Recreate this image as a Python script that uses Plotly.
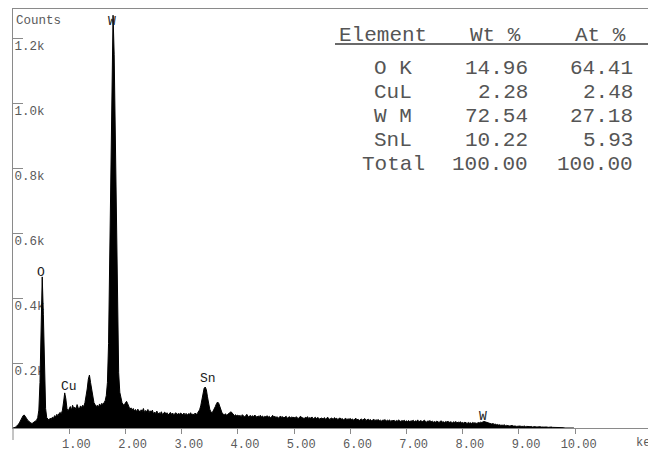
import numpy as np
import plotly.graph_objects as go

# ---------------- data ----------------
channel_width_kev = 0.02  # spectrum channel width (keV); channel i sits at i * width

counts = [
    # 0.00 - 0.48
    0, 0, 2, 5, 8, 12, 18, 25, 32, 38, 40, 36, 30, 24, 20, 17, 15, 14, 16, 18, 20, 24, 32, 55, 140,
    # 0.50 - 0.98
    340, 465, 350, 150, 60, 32, 26, 24, 30, 27, 33, 30, 38, 35, 42, 38, 45, 48, 44, 55, 80, 108, 90, 60, 52,
    # 1.00 - 1.48
    58, 66, 55, 70, 60, 64, 57, 72, 62, 58, 68, 63, 70, 66, 78, 95, 120, 150, 163, 140, 115, 95, 78, 72, 66,
    # 1.50 - 1.98
    70, 64, 74, 68, 76, 72, 78, 84, 100, 140, 260, 540, 870, 1160, 1270, 1150, 880, 600, 330, 170, 110, 88, 78, 72, 70,
    # 2.00 - 2.48
    78, 82, 75, 64, 58, 62, 55, 60, 52, 57, 50, 58, 53, 49, 56, 51, 60, 48, 54, 50, 57, 47, 53, 49, 55,
    # 2.50 - 2.98
    43, 49, 45, 52, 42, 47, 44, 50, 41, 46, 49, 43, 47, 40, 45, 48, 42, 46, 41, 44, 47, 40, 45, 42, 46,
    # 3.00 - 3.48
    44, 40, 46, 41, 45, 39, 44, 42, 47, 40, 43, 41, 46, 42, 45, 50, 56, 68, 85, 108, 122, 126, 118, 96, 74,
    # 3.50 - 3.98
    58, 50, 47, 52, 58, 66, 75, 80, 76, 64, 52, 46, 43, 40, 44, 39, 42, 45, 48, 50, 46, 42, 38, 41, 37,
    # 4.00 - 4.48
    40, 36, 39, 35, 41, 37, 34, 38, 42, 36, 33, 39, 35, 38, 34, 40, 36, 33, 37, 35, 39, 34, 37, 32, 36,
    # 4.50 - 4.98
    34, 38, 33, 36, 31, 35, 39, 33, 36, 32, 35, 30, 34, 37, 32, 35, 31, 34, 36, 30, 33, 35, 31, 34, 32,
    # 5.00 - 5.48
    33, 30, 35, 31, 29, 34, 36, 30, 32, 28, 33, 31, 35, 29, 32, 30, 34, 28, 31, 33, 29, 32, 30, 27, 31,
    # 5.50 - 5.98
    30, 28, 32, 27, 30, 33, 28, 26, 31, 29, 27, 32, 28, 30, 26, 29, 31, 27, 29, 25, 28, 30, 26, 28, 27,
    # 6.00 - 6.48
    29, 26, 28, 24, 27, 30, 25, 27, 23, 26, 28, 24, 26, 29, 23, 25, 27, 24, 26, 22, 25, 27, 23, 25, 24,
    # 6.50 - 6.98
    26, 22, 24, 21, 25, 23, 26, 21, 24, 22, 25, 20, 23, 22, 24, 20, 23, 21, 25, 22, 20, 23, 21, 24, 20,
    # 7.00 - 7.48
    22, 20, 23, 19, 22, 21, 24, 19, 22, 20, 25, 19, 21, 23, 19, 21, 24, 20, 18, 22, 20, 23, 19, 21, 18,
    # 7.50 - 7.98
    20, 18, 21, 19, 17, 20, 22, 18, 19, 17, 20, 18, 21, 17, 19, 18, 16, 19, 17, 20, 16, 18, 17, 19, 16,
    # 8.00 - 8.48
    17, 15, 18, 16, 14, 17, 15, 16, 14, 17, 15, 16, 14, 15, 17, 16, 18, 17, 19, 20, 19, 18, 16, 15, 14,
    # 8.50 - 8.98
    13, 12, 14, 11, 12, 10, 11, 9, 10, 8, 9, 8, 10, 7, 8, 7, 8, 6, 7, 8, 6, 7, 6, 5, 6,
    # 9.00 - 9.48
    5, 6, 5, 4, 5, 6, 4, 5, 4, 5, 4, 5, 3, 4, 5, 4, 3, 4, 3, 4, 3, 4, 3, 3, 4,
    # 9.50 - 9.98
    3, 2, 3, 2, 3, 2, 2, 3, 2, 2, 2, 1, 2, 1, 1, 1, 0, 0, 0, 0, 0, 0, 0, 0, 0,
]
energy_kev = np.round(np.arange(len(counts)) * channel_width_kev, 2)

x_tick_values = [1, 2, 3, 4, 5, 6, 7, 8, 9, 10]
x_tick_labels = ["1.00", "2.00", "3.00", "4.00", "5.00", "6.00", "7.00", "8.00", "9.00", "10.00"]
y_tick_values = [200, 400, 600, 800, 1000, 1200]
y_tick_labels = ["0.2k", "0.4k", "0.6k", "0.8k", "1.0k", "1.2k"]

peak_names = ["O", "Cu", "W", "Sn", "W"]
peak_label_energy = [0.49, 1.00, 1.76, 3.47, 8.36]
peak_label_counts = [480, 129, 1250, 151, 34]

table_header = ["Element", "Wt %", "At %"]
table_elements = ["O K", "CuL", "W M", "SnL", "Total"]
table_wt = ["14.96", "2.28", "72.54", "10.22", "100.00"]
table_at = ["64.41", "2.48", "27.18", "5.93", "100.00"]

# ---------------- figure ----------------
MONO = "Liberation Mono, Courier New, monospace"
AX_GRAY = "#8a8a8a"
TXT_GRAY = "#5a5a5a"

# the page body adds an 8px margin, so the figure is sized to fit the window
PAGE_OFF = 8
W, H = 656 - PAGE_OFF, 454 - PAGE_OFF
L, T, B, R = 5, 1, 26, 0
plot_w = W - L - R
plot_h = H - T - B
PX_PER_COUNT = 0.325

fig = go.Figure()
fig.add_trace(go.Scatter(
    x=energy_kev, y=counts, mode="lines",
    line=dict(color="black", width=1),
    fill="tozeroy", fillcolor="black",
    hoverinfo="skip", showlegend=False,
))

NB = "\u00a0"
x_tick_text = [NB * (6 - len(t)) + t for t in x_tick_labels]

fig.update_layout(
    width=W, height=H,
    margin=dict(l=L, r=R, t=T, b=B, pad=0),
    paper_bgcolor="white", plot_bgcolor="white",
    showlegend=False,
    xaxis=dict(
        range=[0, 11.44],
        tickvals=x_tick_values, ticktext=x_tick_text,
        ticks="outside", ticklen=5, tickcolor=AX_GRAY, tickwidth=1,
        showline=True, linecolor=AX_GRAY, linewidth=1, mirror=True,
        showgrid=False, zeroline=False,
        tickfont=dict(family=MONO, size=12, color=TXT_GRAY),
    ),
    yaxis=dict(
        range=[0, plot_h / PX_PER_COUNT],
        tickvals=y_tick_values, ticktext=y_tick_labels,
        ticks="inside", ticklen=10, tickcolor=AX_GRAY, tickwidth=1,
        ticklabelposition="inside", ticklabelshift=8, ticklabelstandoff=-9,
        showline=True, linecolor=AX_GRAY, linewidth=1,
        showgrid=False, zeroline=False, layer="below traces",
        tickfont=dict(family=MONO, size=12.5, color=TXT_GRAY),
    ),
)

# helper: place text at reference-page pixel positions
PLOT_LEFT_PAGE = L + PAGE_OFF
PLOT_TOP_PAGE = T + PAGE_OFF


def page_text(text, px, py, anchor, size, color):
    return dict(text=text, xref="paper", yref="paper", x=0, y=1,
                xshift=px - PLOT_LEFT_PAGE, yshift=-(py - PLOT_TOP_PAGE),
                xanchor=anchor, yanchor="middle", showarrow=False,
                font=dict(family=MONO, size=size, color=color))


annotations = []
annotations.append(page_text("Counts", 14, 21, "left", 12.5, TXT_GRAY))
annotations.append(dict(text="keV", xref="x", yref="paper", x=11.28, y=0,
                        xanchor="center", yanchor="middle", yshift=-15,
                        showarrow=False, font=dict(family=MONO, size=12, color=TXT_GRAY)))
for name, e, c in zip(peak_names, peak_label_energy, peak_label_counts):
    annotations.append(dict(text=name, x=e, y=c, xref="x", yref="y",
                            xanchor="center", yanchor="middle", showarrow=False,
                            font=dict(family=MONO, size=13, color="#1a1a1a")))

TAB_COLOR = "#555555"
TAB_SIZE = 21
annotations.append(page_text(table_header[0], 337, 35, "left", TAB_SIZE, TAB_COLOR))
annotations.append(page_text(table_header[1], 523, 35, "right", TAB_SIZE, TAB_COLOR))
annotations.append(page_text(table_header[2], 628, 35, "right", TAB_SIZE, TAB_COLOR))
row_y = [68, 92, 116, 140, 164]
for el, wt, at, py in zip(table_elements, table_wt, table_at, row_y):
    annotations.append(page_text(el, 393, py, "center", TAB_SIZE, TAB_COLOR))
    annotations.append(page_text(wt, 530, py, "right", TAB_SIZE, TAB_COLOR))
    annotations.append(page_text(at, 635, py, "right", TAB_SIZE, TAB_COLOR))

fig.update_layout(annotations=annotations)

# header underline and the left axis extension below the baseline
line_y = 1 - (44 - PLOT_TOP_PAGE) / plot_h
fig.add_shape(type="line", xref="paper", yref="paper",
              x0=(335 - PLOT_LEFT_PAGE) / plot_w, x1=1.0, y0=line_y, y1=line_y,
              line=dict(color="#6a6a6a", width=2))
fig.add_shape(type="line", xref="paper", yref="paper",
              x0=0, x1=0, y0=0, y1=-12 / plot_h,
              line=dict(color=AX_GRAY, width=1))

fig.write_html("out.html")
